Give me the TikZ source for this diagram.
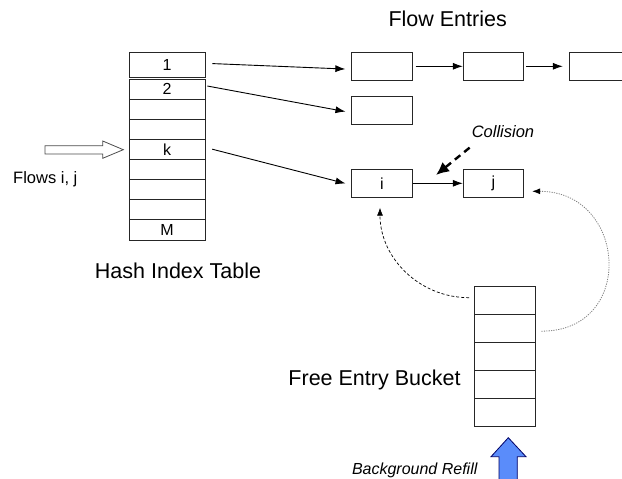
\documentclass[tikz,border=0pt]{standalone}
\usepackage{fontspec}
\setmainfont{Liberation Sans}
\usetikzlibrary{arrows.meta}
\definecolor{refillblue}{RGB}{90,140,250}

\begin{document}
\begin{tikzpicture}[x=1bp, y=-1bp,
    cell/.style={draw=black!85, line width=0.8bp, minimum width=76bp, minimum height=20.125bp,
        inner sep=0pt, font=\fontsize{16bp}{18bp}\selectfont},
    entry/.style={draw=black!85, line width=0.8bp, minimum width=60.5bp, minimum height=28bp,
        inner sep=0pt, font=\fontsize{16bp}{18bp}\selectfont},
    title/.style={anchor=base, inner sep=0pt, font=\fontsize{21.5bp}{24bp}\selectfont},
    note/.style={anchor=base, inner sep=0pt, font=\fontsize{16.5bp}{19bp}\selectfont\itshape},
    link/.style={-{Latex[length=10bp,width=7bp]}, line width=0.9bp}]

\clip (0,0) rectangle (622,479);

% hash index table
\node[cell, minimum height=25bp] (h1) at (167,64.5) {1};
\foreach \n/\t in {2/2,3/{},4/{},5/k,6/{},7/{},8/{},9/M}
    \node[cell] (h\n) at (167,{48.81+20.125*\n}) {\t};

% flow entries
\node[entry] (e1) at (382,66.3) {};
\node[entry] (e2) at (493.5,66.3) {};
\node[entry] (e3) at (599.5,66.3) {};
\node[entry] (e4) at (382,110.8) {};
\node[entry] (ei) at (382,183.3) {i};
\node[entry] (ej) at (493.5,183.3) {j};

% free entry bucket
\foreach \n in {1,...,5}
    \node[entry] (b\n) at (504.8,{272.7+28*\n}) {};

% labels
\node[title] (flowtitle) at (447.7,26.7) {Flow Entries};
\node[title] (hashtitle) at (178,278.3) {Hash Index Table};
\node[title] (buckettitle) at (374.5,385) {Free Entry Bucket};
\node[anchor=base, inner sep=0pt, font=\fontsize{16.5bp}{19bp}\selectfont] (flows) at (45.3,184) {Flows i, j};
\node[note] (collision) at (503,137.3) {Collision};
\node[note, font=\fontsize{16bp}{19bp}\selectfont\itshape] (refill) at (414.7,474.3) {Background Refill};

% table -> entries
\draw[link, shorten <=7bp, shorten >=6bp] ([yshift=1.2bp]h1.east) -- ([yshift=-3bp]e1.west);
\draw[link, shorten <=2bp, shorten >=6bp] ([yshift=3.4bp]h2.east) -- ([yshift=-1.9bp]e4.west);
\draw[link, shorten <=7bp, shorten >=6bp] ([yshift=2bp]h5.east) -- ([yshift=-1.7bp]ei.west);
\draw[link, shorten <=3bp] (e1.east) -- (e2.west);
\draw[link, shorten <=2bp, shorten >=6bp] (e2.east) -- (e3.west);
\draw[link] (ei.east) -- (ej.west);

% collision
\coordinate (hit) at (436,175);
\draw[-{Latex[length=13bp,width=12bp]}, line width=2.4bp, dash pattern=on 7bp off 5bp]
    ([xshift=-2bp,yshift=-10bp]collision.south west) -- (hit);

% bucket -> entries
\draw[-{Latex[length=8bp,width=6bp]}, line width=0.7bp, dash pattern=on 3bp off 2bp]
    ([xshift=-5bp,yshift=3bp]b1.west) .. controls +(-50,0) and +(0,50) .. ([xshift=-2bp,yshift=-10bp]ei.south);
\draw[-{Latex[length=8bp,width=6bp,black]}, gray, line width=0.8bp, dash pattern=on 1.2bp off 1.2bp]
    ([xshift=6bp,yshift=-2.5bp]b2.east) .. controls +(95,0) and +(95,0) .. ([xshift=8bp,yshift=-8bp]ej.east);

% incoming flows
\draw[black!70, line width=0.8bp, fill=white] (123.3,149.7) -- ++(-20.6,-8.7) -- ++(0,4.7) -- ++(-57.7,0)
    -- ++(0,8.3) -- ++(57.7,0) -- ++(0,4.3) -- cycle;

% refill
\draw[black!60!blue, line width=0.8bp, fill=refillblue] (508.3,437.7) -- ++(17.7,19) -- ++(-8.7,0) -- ++(0,30)
    -- ++(-18.3,0) -- ++(0,-30) -- ++(-8,0) -- cycle;
\end{tikzpicture}
\end{document}
